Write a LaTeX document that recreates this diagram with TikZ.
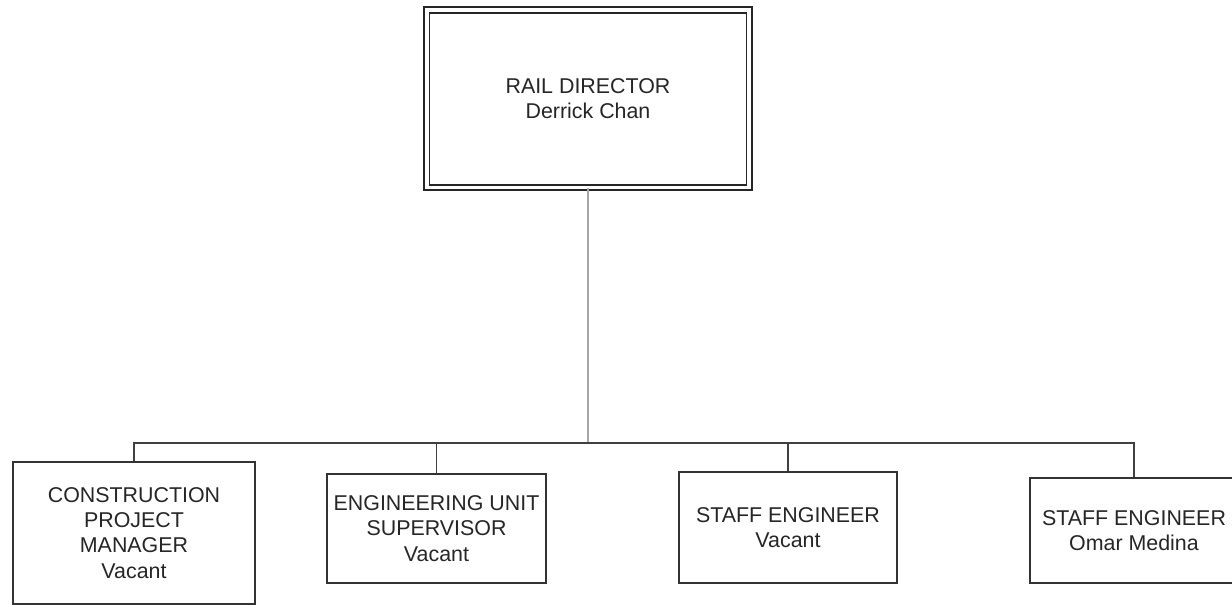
\documentclass[tikz,border=0pt]{standalone}
\usepackage{fontspec}
\setmainfont{Liberation Sans}
\tikzset{
  post/.style={draw=black!80, line width=0.85pt, fill=white, align=center, inner sep=1pt,
    font=\fontsize{10.7}{12.6}\selectfont, text=black!85},
  head/.style={post, draw=black!85, line width=0.9pt, double, double distance=1.9pt},
  ln/.style={draw=black!75, line width=0.8pt},
  gl/.style={draw=gray!70, line width=1.2pt},
}
\begin{document}
\begin{tikzpicture}[x=0.5pt, y=-0.5pt]
\clip (0,0) rectangle (1232,605);
\fill[white] (0,0) rectangle (1232,605);
% director and staff
\node[head, minimum width=161.25pt, minimum height=88.75pt] (dir) at (588,98.75) {RAIL DIRECTOR\\Derrick Chan};
\node[post, minimum width=121pt, minimum height=71pt] (cpm) at (134,533) {CONSTRUCTION\\PROJECT\\MANAGER\\Vacant};
\node[post, minimum width=109.5pt, minimum height=54.5pt] (eus) at (436.5,528.5) {ENGINEERING UNIT\\SUPERVISOR\\Vacant};
\node[post, minimum width=109pt, minimum height=55.5pt] (se1) at (788,527.5) {STAFF ENGINEER\\Vacant};
\node[post, minimum width=104pt, minimum height=52.5pt] (se2) at (1134,530.5) {STAFF ENGINEER\\Omar Medina};
\coordinate (bar) at (588,443);
% connectors
\draw[gl] (dir.south) -- (bar);
\draw[ln] (cpm.north) -- (cpm.north |- bar) -- (se2.north |- bar) -- (se2.north);
\draw[ln] (eus.north) -- (eus.north |- bar);
\draw[ln] (se1.north) -- (se1.north |- bar);
\end{tikzpicture}
\end{document}
